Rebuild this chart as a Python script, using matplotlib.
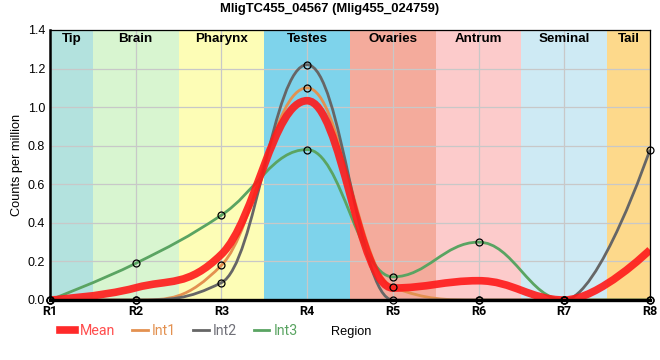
import numpy as np
import matplotlib
matplotlib.use("Agg")
import matplotlib.pyplot as plt
from matplotlib.path import Path
from matplotlib.patches import PathPatch
from matplotlib.lines import Line2D

# data
regions = ["R1", "R2", "R3", "R4", "R5", "R6", "R7", "R8"]
int1 = [0.0, 0.0, 0.18, 1.10, 0.066, 0.0, 0.0, 0.0]
int2 = [0.0, 0.0, 0.09, 1.22, 0.0, 0.0, 0.0, 0.78]
int3 = [0.0, 0.19, 0.44, 0.78, 0.12, 0.30, 0.0, 0.0]
mean = list(np.mean([int1, int2, int3], axis=0))

bands = ["Tip", "Brain", "Pharynx", "Testes", "Ovaries", "Antrum", "Seminal", "Tail"]
band_cols = ["#b3e2de", "#d8f5d0", "#fdfdb6", "#7ed3eb", "#f4ab9c", "#fccbcb", "#ceeaf4", "#fdd98b"]

title = "MligTC455_04567 (Mlig455_024759)"


def spline_path(xs, ys, smoothing=1.5):
    # bezier spline through the points, flat at local extremes
    n = len(xs)
    lc = [(xs[i], ys[i]) for i in range(n)]
    rc = [(xs[i], ys[i]) for i in range(n)]
    d = smoothing + 1
    for i in range(1, n - 1):
        x, y = xs[i], ys[i]
        lx, ly = xs[i - 1], ys[i - 1]
        nx, ny = xs[i + 1], ys[i + 1]
        lcx = (smoothing * x + lx) / d
        lcy = (smoothing * y + ly) / d
        rcx = (smoothing * x + nx) / d
        rcy = (smoothing * y + ny) / d
        corr = (rcy - lcy) * (rcx - x) / (rcx - lcx) + y - rcy
        lcy += corr
        rcy += corr
        if lcy > ly and lcy > y:
            lcy = max(ly, y)
            rcy = 2 * y - lcy
        elif lcy < ly and lcy < y:
            lcy = min(ly, y)
            rcy = 2 * y - lcy
        if rcy > ny and rcy > y:
            rcy = max(ny, y)
            lcy = 2 * y - rcy
        elif rcy < ny and rcy < y:
            rcy = min(ny, y)
            lcy = 2 * y - rcy
        lc[i] = (lcx, lcy)
        rc[i] = (rcx, rcy)
    verts = [(xs[0], ys[0])]
    codes = [Path.MOVETO]
    for i in range(1, n):
        verts += [rc[i - 1], lc[i], (xs[i], ys[i])]
        codes += [Path.CURVE4] * 3
    return Path(verts, codes)


fig = plt.figure(figsize=(6.6, 3.6), dpi=100)
ax = fig.add_axes([50 / 660, 60 / 360, 600 / 660, 270 / 360])

x = np.arange(len(regions))
for i, (b, c) in enumerate(zip(bands, band_cols)):
    lo, hi = max(i - 0.5, 0), min(i + 0.5, len(regions) - 1)
    ax.axvspan(lo, hi, color=c, lw=0, zorder=0)
    ax.text((lo + hi) / 2, 1.382, b, ha="center", va="top", fontsize=9.6,
            fontweight="bold", family="Liberation Sans", zorder=5)

ax.grid(True, color="#c8c8c8", lw=0.9, zorder=1)
ax.set_axisbelow(False)

series = [("Int1", int1, "#e39150"), ("Int2", int2, "#666666"), ("Int3", int3, "#5aa462")]
for name, vals, col in series:
    ax.add_patch(PathPatch(spline_path(x, vals), fill=False, ec=col, lw=2.0, zorder=3))
    ax.plot(x, vals, ls="none", marker="o", ms=5, mfc="none", mec="black",
            mew=0.9, zorder=6, clip_on=False)

ax.add_patch(PathPatch(spline_path(x, mean), fill=False, ec="#ff1a1a", alpha=0.9,
                       lw=5.5, zorder=4, capstyle="butt"))

ax.set_xlim(0, 7)
ax.set_ylim(0, 1.4)
ax.set_xticks(x)
ax.set_xticklabels(regions, fontsize=9, fontweight="bold", family="Roboto")
ax.set_yticks(np.arange(0, 1.41, 0.2))
ax.set_yticklabels([f"{v:.1f}" for v in np.arange(0, 1.41, 0.2)], fontsize=9,
                   family="Liberation Sans")
ax.tick_params(length=0, pad=3.5)

for s in ax.spines.values():
    s.set_color("black")
    s.set_linewidth(0.9)
    s.set_zorder(7)
ax.spines["left"].set_linewidth(1.8)
ax.spines["bottom"].set_linewidth(2.4)

ax.set_ylabel("Counts per million", fontsize=9.2, family="Liberation Sans")
ax.yaxis.set_label_coords(-27 / 600, 0.5)
fig.text(331 / 660, 1 - 332 / 360, "Region", fontsize=9.2, family="Liberation Sans",
         ha="left", va="center")
fig.text(0.5, 1 - 9 / 360, title, fontsize=9.4, fontweight="bold",
         family="Liberation Sans", ha="center", va="center")

handles = [Line2D([], [], color="#ff2a2a", lw=5.5)]
handles += [Line2D([], [], color=c, lw=2) for _, _, c in series]
leg = fig.legend(handles, ["Mean", "Int1", "Int2", "Int3"], loc="center left",
                 bbox_to_anchor=(47 / 660, 1 - 331 / 360), ncol=4, frameon=False,
                 handlelength=1.1, handletextpad=0.3, columnspacing=1.2,
                 prop={"family": "Roboto", "size": 10.2})
for t, c in zip(leg.get_texts(), ["#ff4d4d", "#e39150", "#707078", "#5aa462"]):
    t.set_color(c)

fig.savefig("out.png", dpi=100)
